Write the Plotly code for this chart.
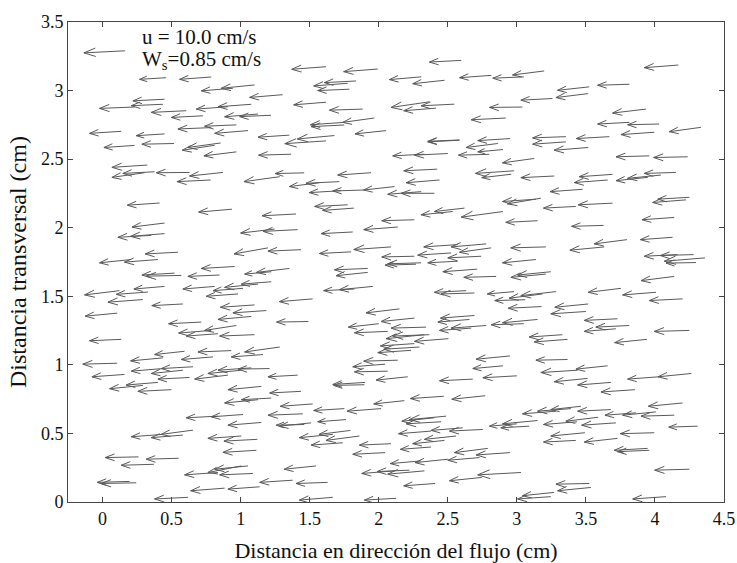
import math
import plotly.figure_factory as ff
import plotly.graph_objects as go

# Arrow tails (x_tail, y_tail) and heads (x_head, y_head) in cm
x_tail = [0.164,0.461,0.787,0.944,1.101,1.304,0.449,0.232,0.437,0.606,0.908,1.077,0.727,1.126,1.220,0.135,0.449,0.787,0.969,1.053,1.353,
1.618,1.993,2.597,2.307,2.476,2.815,3.050,1.775,1.787,1.836,1.618,1.884,2.367,2.415,2.548,3.040,1.751,1.968,1.750,2.053,2.920,1.679,2.585,2.950,
4.169,3.198,3.524,3.815,3.258,3.517,3.935,3.815,4.030,4.333,3.995,3.355,3.670,
0.232,0.517,0.812,0.855,0.969,1.365,0.324,0.304,0.377,0.630,0.872,0.783,1.283,1.460,0.413,0.937,1.401,0.449,0.353,0.449,1.246,1.413,0.546,1.198,1.437,0.208,0.401,
1.618,2.585,2.862,2.900,2.331,2.500,2.800,1.944,2.423,2.980,2.960,2.440,1.570,1.715,1.727,1.896,2.114,2.307,2.403,1.775,1.820,2.536,2.621,2.900,2.258,2.138,1.812,1.800,2.089,2.572,2.778,2.258,2.524,2.741,2.814,2.307,2.572,
3.355,3.517,3.959,4.237,3.126,3.271,3.693,3.657,3.947,4.043,4.152,3.476,3.138,3.174,3.427,3.693,4.225,4.249,3.150,3.628,4.140,3.210,3.633,3.797,4.128,4.164,4.280,4.362,3.138,
0.522,0.570,0.848,0.957,1.222,1.353,0.449,0.123,0.329,0.812,1.017,1.126,1.222,0.981,0.292,0.582,1.101,1.186,0.106,1.077,1.490,0.715,0.969,0.787,0.836,1.101,0.135,0.594,0.932,1.283,0.437,0.800,1.162,0.106,0.437,0.582,0.655,0.159,0.908,1.005,1.077,1.210,0.401,0.630,1.413,
2.270,1.920,1.920,2.713,2.850,1.824,1.957,2.633,2.693,2.980,3.060,1.522,2.150,2.258,2.693,2.657,2.000,2.343,2.669,2.778,3.050,2.065,2.331,2.367,2.505,2.258,2.295,2.234,2.950,2.138,2.046,2.065,2.900,2.210,1.901,2.681,3.000,
4.297,3.210,3.246,4.140,3.754,3.186,3.283,4.007,4.200,3.179,3.517,3.500,3.150,3.729,3.717,3.814,4.249,3.330,3.367,3.942,3.367,3.440,3.657,3.512,4.030,4.263,3.681,
0.292,0.498,1.150,1.126,1.222,1.437,0.836,1.017,1.450,1.150,0.437,0.582,0.655,1.005,1.121,1.461,1.114,0.261,0.551,0.372,0.836,1.005,1.053,1.089,0.196,0.244,0.884,1.138,1.377,0.618,
1.896,2.186,2.471,2.771,1.522,1.751,2.017,1.510,1.763,2.403,2.488,2.452,3.000,2.379,2.609,2.754,1.667,1.795,1.860,1.739,2.476,2.560,2.089,2.379,2.046,2.790,2.950,2.307,2.500,2.729,1.546,2.114,2.222,2.331,3.030,1.630,2.408,2.746,1.667,2.126,
3.855,4.200,3.283,3.391,3.464,3.681,3.862,4.007,4.140,3.589,3.150,3.089,3.435,3.717,4.309,3.493,3.995,3.427,3.729,3.947,3.959,4.249,3.524,3.536,3.246,3.270,4.080]
y_tail = [3.290,3.094,3.099,3.017,3.041,2.970,2.937,2.880,2.900,2.853,2.882,2.900,2.816,2.829,2.820,2.703,2.684,2.730,2.750,2.708,2.675,
3.174,3.157,3.220,3.100,3.075,3.111,3.100,3.053,3.010,3.070,2.915,2.865,2.918,2.872,2.901,2.880,2.768,2.800,2.749,2.708,2.800,2.672,2.640,2.650,
3.186,3.143,3.027,3.046,2.942,2.978,2.865,2.768,2.756,2.732,2.696,2.664,2.664,
2.600,2.614,2.601,2.618,2.553,2.536,2.457,2.401,2.408,2.403,2.403,2.348,2.372,2.400,2.180,2.135,2.100,2.034,1.944,1.957,1.990,1.986,1.821,1.853,1.840,1.768,1.768,
2.633,2.638,2.614,2.570,2.536,2.541,2.535,2.401,2.427,2.415,2.390,2.348,2.328,2.336,2.270,2.275,2.300,2.263,2.251,2.167,2.143,2.118,2.143,2.118,2.058,2.005,1.969,1.824,1.860,1.877,1.882,1.792,1.816,1.792,1.853,1.744,1.756,
2.626,2.585,2.524,2.517,2.505,2.377,2.389,2.348,2.367,2.384,2.403,2.280,2.208,2.215,2.155,2.179,2.203,2.222,2.051,2.017,2.075,1.860,1.860,1.913,1.930,1.804,1.804,1.780,1.768,
1.669,1.652,1.655,1.717,1.679,1.703,1.572,1.541,1.531,1.572,1.558,1.589,1.606,1.517,1.476,1.444,1.437,1.396,1.377,1.353,1.316,1.312,1.287,1.251,1.227,1.220,1.186,1.099,1.104,1.130,1.051,1.058,1.075,1.012,0.973,0.961,0.986,0.930,0.925,0.961,0.978,0.973,0.872,0.908,0.925,
1.734,1.703,1.674,1.698,1.645,1.553,1.572,1.541,1.524,1.534,1.475,1.481,1.408,1.341,1.360,1.331,1.300,1.275,1.268,1.287,1.300,1.244,1.220,1.220,1.191,1.155,1.130,1.106,1.065,1.034,1.005,0.954,0.993,0.913,0.872,0.896,0.920,
1.746,1.662,1.679,1.645,1.558,1.517,1.534,1.529,1.481,1.425,1.444,1.389,1.331,1.336,1.263,1.287,1.251,1.220,1.186,1.186,1.039,0.961,0.993,0.901,0.913,0.937,0.872,
0.850,0.819,0.843,0.746,0.758,0.807,0.626,0.638,0.643,0.580,0.493,0.488,0.524,0.481,0.457,0.565,0.377,0.329,0.319,0.275,0.215,0.263,0.263,0.208,0.150,0.140,0.101,0.111,0.159,0.034,
0.855,0.739,0.771,0.775,0.715,0.681,0.681,0.577,0.601,0.614,0.626,0.585,0.570,0.517,0.541,0.529,0.493,0.522,0.481,0.432,0.449,0.481,0.425,0.401,0.360,0.391,0.360,0.300,0.312,0.324,0.263,0.227,0.232,0.227,0.215,0.143,0.135,0.179,0.034,0.027,
0.819,0.722,0.662,0.681,0.698,0.674,0.650,0.657,0.633,0.618,0.594,0.553,0.585,0.577,0.553,0.505,0.505,0.449,0.464,0.391,0.377,0.239,0.135,0.106,0.039,0.070,0.039]
x_head = [-0.135,0.268,0.558,0.715,0.860,1.065,0.220,-0.022,0.208,0.353,0.679,0.836,0.498,0.884,0.993,-0.094,0.244,0.546,0.739,0.812,1.126,
1.370,1.746,2.367,2.077,2.246,2.585,2.826,1.529,1.558,1.606,1.384,1.643,2.089,2.181,2.307,2.802,1.505,1.739,1.510,1.828,2.669,1.410,2.355,2.717,
3.923,2.969,3.295,3.585,3.029,3.283,3.693,3.585,3.802,4.104,3.754,3.114,3.430,
0.010,0.285,0.577,0.618,0.734,1.130,0.068,0.068,0.147,0.389,0.630,0.539,1.024,1.250,0.179,0.696,1.155,0.213,0.111,0.203,1.000,1.162,0.309,0.952,1.198,-0.022,0.159,
1.320,2.355,2.633,2.717,2.101,2.258,2.577,1.703,2.181,2.700,2.746,2.198,1.353,1.473,1.497,1.667,1.891,2.065,2.162,1.536,1.594,2.307,2.403,2.597,2.022,1.891,1.582,1.570,1.819,2.326,2.524,2.022,2.282,2.500,2.585,2.065,2.355,
3.114,3.270,3.718,3.990,2.896,3.029,3.452,3.415,3.718,3.802,3.923,3.241,2.896,2.932,3.193,3.444,3.983,4.020,2.920,3.396,3.906,2.956,3.384,3.560,3.894,3.923,4.039,4.068,2.896,
0.285,0.316,0.618,0.715,1.029,1.114,0.227,-0.130,0.099,0.582,0.800,0.884,1.005,0.751,0.039,0.357,0.853,0.944,-0.126,0.836,1.260,0.478,0.739,0.551,0.606,0.848,-0.094,0.377,0.691,1.029,0.203,0.570,0.932,-0.143,0.208,0.353,0.425,-0.077,0.667,0.763,0.836,0.981,0.171,0.401,1.198,
2.046,1.679,1.691,2.464,2.616,1.601,1.715,2.403,2.452,2.786,2.840,1.280,1.908,2.017,2.447,2.428,1.780,2.089,2.440,2.524,2.814,1.824,2.053,2.101,2.258,2.012,2.036,1.993,2.705,1.891,1.812,1.824,2.681,1.981,1.667,2.440,2.754,
4.080,2.957,3.005,3.899,3.517,2.944,3.029,3.766,3.959,2.937,3.275,3.246,2.896,3.488,3.488,3.572,3.995,3.089,3.126,3.708,3.138,3.174,3.428,3.271,3.802,4.022,3.440,
0.051,0.256,0.908,0.884,1.005,1.210,0.606,0.787,1.198,0.908,0.208,0.353,0.425,0.763,0.879,1.258,0.872,0.019,0.316,0.135,0.594,0.763,0.812,0.848,-0.039,-0.010,0.638,0.908,1.138,0.377,
1.674,1.964,2.229,2.529,1.287,1.529,1.771,1.280,1.558,2.167,2.222,2.198,2.802,2.143,2.379,2.512,1.425,1.568,1.618,1.510,2.246,2.331,1.860,2.157,1.812,2.548,2.705,2.084,2.263,2.500,1.316,1.877,1.988,2.065,2.717,1.401,2.181,2.512,1.425,1.896,
3.609,3.952,3.041,3.150,3.246,3.440,3.638,3.766,3.899,3.355,2.896,2.884,3.193,3.469,4.100,3.246,3.749,3.193,3.488,3.705,3.729,3.998,3.283,3.295,3.005,3.041,3.839]
y_head = [3.275,3.082,3.082,2.998,3.017,2.950,2.925,2.870,2.890,2.841,2.865,2.882,2.804,2.809,2.810,2.688,2.671,2.720,2.740,2.688,2.660,
3.155,3.138,3.208,3.080,3.050,3.094,3.090,3.034,3.000,3.058,2.896,2.857,2.877,2.853,2.889,2.877,2.751,2.768,2.737,2.684,2.787,2.647,2.630,2.635,
3.167,3.114,3.002,3.039,2.930,2.949,2.836,2.756,2.751,2.700,2.679,2.655,2.650,
2.585,2.609,2.565,2.585,2.524,2.529,2.440,2.367,2.396,2.401,2.377,2.336,2.336,2.395,2.164,2.114,2.087,2.005,1.930,1.937,1.961,1.973,1.809,1.809,1.829,1.744,1.749,
2.613,2.626,2.585,2.553,2.524,2.529,2.529,2.384,2.415,2.396,2.365,2.328,2.300,2.324,2.256,2.268,2.275,2.244,2.251,2.155,2.126,2.094,2.118,2.077,2.051,1.986,1.957,1.812,1.841,1.860,1.860,1.787,1.800,1.780,1.821,1.737,1.744,
2.609,2.565,2.517,2.512,2.473,2.365,2.372,2.329,2.343,2.360,2.396,2.263,2.191,2.174,2.143,2.167,2.184,2.208,2.039,2.010,2.058,1.853,1.836,1.882,1.913,1.792,1.797,1.756,1.744,
1.655,1.647,1.645,1.703,1.662,1.674,1.553,1.510,1.514,1.553,1.541,1.565,1.589,1.500,1.457,1.432,1.420,1.379,1.355,1.331,1.312,1.300,1.251,1.232,1.210,1.210,1.176,1.075,1.094,1.094,1.029,1.039,1.058,1.005,0.954,0.937,0.973,0.913,0.896,0.937,0.961,0.969,0.853,0.896,0.913,
1.727,1.693,1.650,1.679,1.638,1.541,1.548,1.529,1.517,1.517,1.469,1.461,1.379,1.316,1.341,1.312,1.275,1.268,1.251,1.268,1.292,1.234,1.191,1.210,1.171,1.138,1.114,1.089,1.041,1.027,0.986,0.949,0.973,0.889,0.857,0.884,0.906,
1.742,1.638,1.655,1.614,1.529,1.486,1.505,1.510,1.469,1.413,1.420,1.372,1.307,1.324,1.244,1.275,1.244,1.203,1.167,1.162,1.034,0.944,0.969,0.877,0.896,0.913,0.853,
0.826,0.807,0.819,0.722,0.746,0.795,0.614,0.621,0.633,0.560,0.476,0.469,0.493,0.464,0.444,0.560,0.362,0.324,0.312,0.268,0.198,0.215,0.239,0.198,0.143,0.135,0.082,0.094,0.143,0.022,
0.850,0.715,0.754,0.749,0.698,0.667,0.662,0.553,0.585,0.589,0.601,0.570,0.553,0.498,0.522,0.517,0.469,0.493,0.449,0.415,0.425,0.457,0.415,0.384,0.348,0.360,0.343,0.280,0.287,0.304,0.239,0.208,0.222,0.203,0.198,0.135,0.118,0.155,0.014,0.014,
0.802,0.698,0.643,0.662,0.674,0.662,0.633,0.633,0.626,0.589,0.570,0.541,0.565,0.560,0.546,0.481,0.498,0.437,0.437,0.377,0.367,0.232,0.130,0.082,0.022,0.046,0.022]

x_ticks = [0, 0.5, 1, 1.5, 2, 2.5, 3, 3.5, 4, 4.5]
x_ticklabels = ["0", "0.5", "1", "1.5", "2", "2.5", "3", "3.5", "4", "4.5"]
y_ticks = [0, 0.5, 1, 1.5, 2, 2.5, 3, 3.5]
y_ticklabels = ["0", "0.5", "1", "1.5", "2", "2.5", "3", "3.5"]

u = [h - t for h, t in zip(x_head, x_tail)]
v = [h - t for h, t in zip(y_head, y_tail)]

fig = ff.create_quiver(x_tail, y_tail, u, v, scale=1, arrow_scale=0.3,
                       angle=math.pi / 9, line=dict(color="#5a5a5a", width=1))
fig.update_traces(showlegend=False, hoverinfo="skip")

FONT = "Liberation Serif"
fig.add_annotation(x=0.27, y=3.39, xref="x", yref="y", text="u = 10.0 cm/s",
                   showarrow=False, xanchor="left", yanchor="middle",
                   font=dict(family=FONT, size=21, color="#111"))
fig.add_annotation(x=0.27, y=3.22, xref="x", yref="y", text="W<sub>s</sub>=0.85 cm/s",
                   showarrow=False, xanchor="left", yanchor="middle",
                   font=dict(family=FONT, size=21, color="#111"))
# y-axis title placed as a rotated annotation for exact positioning
fig.add_annotation(x=0, y=0.5, xref="paper", yref="paper", xshift=-50,
                   text="Distancia transversal (cm)", textangle=-90, showarrow=False,
                   xanchor="center", yanchor="middle",
                   font=dict(family=FONT, size=24, color="#111"))

axis_common = dict(showgrid=False, zeroline=False, showline=True, linecolor="#444",
                   linewidth=1, mirror="ticks", ticks="inside", ticklen=5,
                   tickcolor="#444", automargin=False,
                   tickfont=dict(family=FONT, size=18, color="#111"))
fig.update_xaxes(range=[-0.25, 4.5], tickvals=x_ticks, ticktext=x_ticklabels,
                 title=dict(text="Distancia en dirección del flujo (cm)",
                            font=dict(family=FONT, size=22, color="#111")),
                 **axis_common)
fig.update_yaxes(range=[0, 3.5], tickvals=y_ticks, ticktext=y_ticklabels,
                 **axis_common)
fig.update_layout(width=737, height=563, plot_bgcolor="white", paper_bgcolor="white",
                  margin=dict(l=68, r=13, t=22, b=61), showlegend=False)
fig.write_html("out.html", config={"displayModeBar": False},
               post_script="document.body.style.margin='0px';document.body.style.overflow='hidden';")
